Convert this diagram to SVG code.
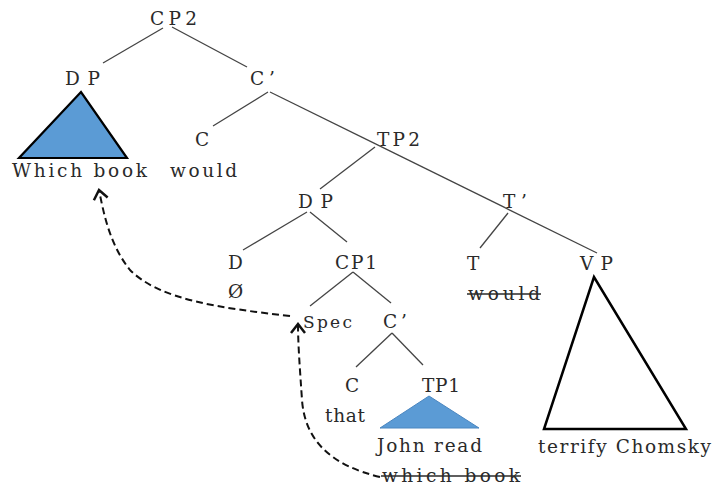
<svg xmlns="http://www.w3.org/2000/svg" width="712" height="487" viewBox="0 0 712 487">
<style>
text{font-family:"DejaVu Serif","Liberation Serif",serif;font-size:18.5px;fill:#2a2a2a}
.sm{font-size:17px}
.strike{stroke:#2a2a2a;stroke-width:1.3}
.edge{stroke:#444;stroke-width:1.3;fill:none}
.move{stroke:#111;stroke-width:2;stroke-dasharray:7 4;fill:none;marker-end:url(#chev)}
</style>
<defs>
<marker id="chev" markerUnits="userSpaceOnUse" viewBox="-12 -10 14 20" markerWidth="14" markerHeight="20" refX="0" refY="0" orient="auto">
<path d="M-9,-7 L0,0 L-9,7" fill="none" stroke="#111" stroke-width="2.5"/>
</marker>
</defs>
<rect width="712" height="487" fill="#fff"/>
<g id="connectors">
<line class="edge" x1="163" y1="28" x2="103" y2="63"/>
<line class="edge" x1="172" y1="27" x2="247" y2="67"/>
<line class="edge" x1="268" y1="92" x2="213" y2="126"/>
<line class="edge" x1="270" y1="92" x2="376" y2="144.2"/>
<line class="edge" x1="376" y1="144.2" x2="505" y2="207.7"/>
<line class="edge" x1="505" y1="207.7" x2="597" y2="253"/>
<line class="edge" x1="375" y1="147" x2="320" y2="189"/>
<line class="edge" x1="508" y1="213" x2="480" y2="248"/>
<line class="edge" x1="307" y1="212" x2="243" y2="250"/>
<line class="edge" x1="310" y1="212" x2="347" y2="242"/>
<line class="edge" x1="353" y1="272" x2="310" y2="306"/>
<line class="edge" x1="353" y1="272" x2="391" y2="303"/>
<line class="edge" x1="392" y1="333" x2="356" y2="367"/>
<line class="edge" x1="392" y1="333" x2="423" y2="365"/>
<path class="move" d="M290,316 C220,308 160,300 130,270 C110,245 104,215 99,190"/>
<path class="move" d="M380,477 C330,465 305,440 302,400 C300,370 298,345 298,324"/>
</g>
<g id="CP2"><text x="150" y="25" textLength="47" lengthAdjust="spacing">CP2</text></g>
<g id="DP-top"><text x="65" y="85" textLength="35" lengthAdjust="spacing">DP</text>
<polygon points="81,92 19,158 127,158" fill="#5b9bd5" stroke="#000" stroke-width="2.2"/>
<text x="12" y="177" textLength="135" lengthAdjust="spacing">Which book</text></g>
<g id="Cbar-top"><text x="250" y="85" textLength="25" lengthAdjust="spacing">C’</text></g>
<g id="C-top"><text x="195" y="146" textLength="16" lengthAdjust="spacing">C</text>
<text x="170" y="177" textLength="67" lengthAdjust="spacing">would</text></g>
<g id="TP2"><text x="377" y="146" textLength="43" lengthAdjust="spacing">TP2</text></g>
<g id="DP-mid"><text x="298" y="208" textLength="35" lengthAdjust="spacing">DP</text></g>
<g id="Tbar"><text x="503" y="208" textLength="24" lengthAdjust="spacing">T’</text></g>
<g id="D"><text x="228" y="269" textLength="17" lengthAdjust="spacing">D</text>
<text x="228" y="298" textLength="20" lengthAdjust="spacing">Ø</text></g>
<g id="CP1"><text x="335" y="269" textLength="42" lengthAdjust="spacing">CP1</text></g>
<g id="T"><text x="467" y="270" textLength="16" lengthAdjust="spacing">T</text>
<text x="468" y="300" textLength="72" lengthAdjust="spacing">would</text>
<line class="strike" x1="467" y1="294" x2="541" y2="294"/></g>
<g id="VP"><text x="580" y="270" textLength="33" lengthAdjust="spacing">VP</text>
<polygon points="594,277 544,429 686,429" fill="#fff" stroke="#000" stroke-width="2.5"/>
<text x="538" y="453" textLength="173" lengthAdjust="spacing">terrify Chomsky</text></g>
<g id="Spec"><text class="sm" x="303" y="328" textLength="49" lengthAdjust="spacing">Spec</text></g>
<g id="Cbar-low"><text x="383" y="328" textLength="24" lengthAdjust="spacing">C’</text></g>
<g id="C-low"><text x="345" y="392" textLength="17" lengthAdjust="spacing">C</text>
<text x="325" y="422" textLength="40" lengthAdjust="spacing">that</text></g>
<g id="TP1"><text x="422" y="392" textLength="38" lengthAdjust="spacing">TP1</text>
<polygon points="429,396 380,428 479,428" fill="#5b9bd5" stroke="#4a86c0" stroke-width="1"/>
<text x="377" y="452" textLength="105" lengthAdjust="spacing">John read</text>
<text x="382" y="482" textLength="138" lengthAdjust="spacing">which book</text>
<line class="strike" x1="381" y1="476" x2="521" y2="476"/></g>
</svg>
